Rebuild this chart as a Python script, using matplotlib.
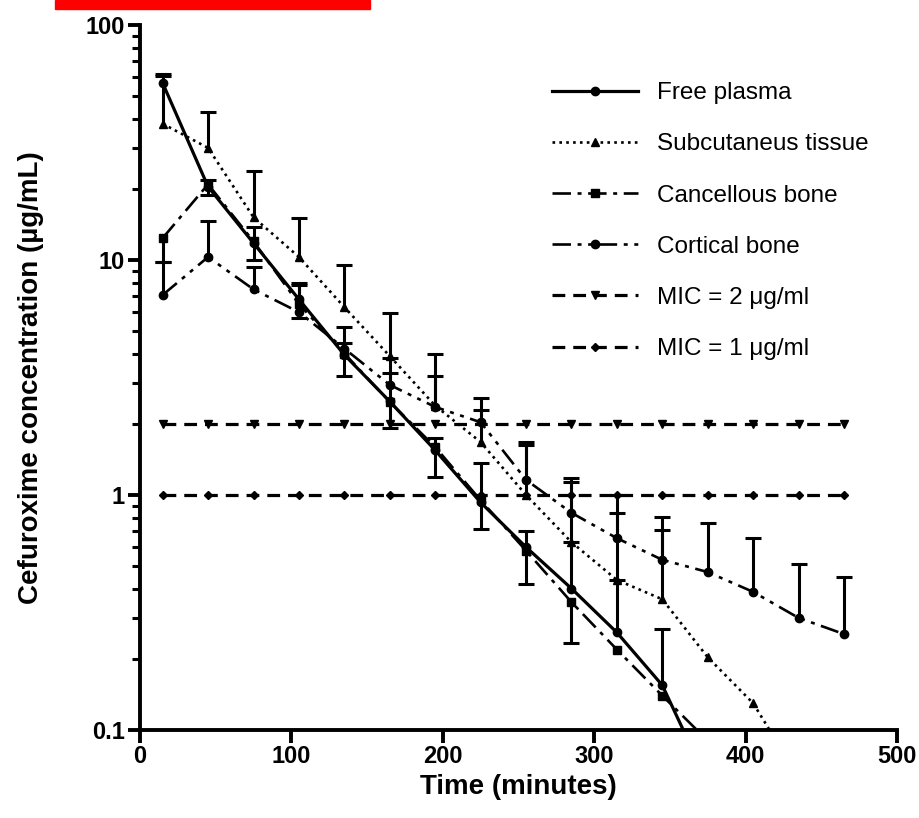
import numpy as np
import matplotlib
matplotlib.use("Agg")
import matplotlib.pyplot as plt
from matplotlib.patches import Rectangle

plt.rcParams["font.family"] = ["Liberation Sans", "DejaVu Sans"]

# Data
times = [15, 45, 75, 105, 135, 165, 195, 225, 255, 285, 315, 345, 375, 405, 435, 465]

plasma = [56.6, 20.5, 11.8, 6.8, 3.95, 2.5, 1.55, 0.93, 0.60, 0.40, 0.26, 0.155, 0.06]
plasma_err = [4.0, 1.5, 2.0, 1.0, 0.5, 0.8, 0.2, 0.44, 0.1, 0.23, 0.175, 0.115, np.nan]

subcut = [38, 30, 15.2, 10.3, 6.3, 3.9, 2.4, 1.68, 1.0, 0.63, 0.435, 0.36, 0.204, 0.13, 0.063]
subcut_err = [24, 12.6, 8.8, 4.8, 3.2, 2.05, 1.6, 0.62, 0.63, 0.51, 0.405, 0.35,
              np.nan, np.nan, np.nan]

cancellous = [12.4, 21, 12.0, 6.5, 4.0, 2.49, 1.6, 0.95, 0.58, 0.35, 0.22, 0.14, 0.09]
cancellous_err = [2.6, 2.0, 2.0, 0.85, 0.8, 0.56, 0.41, 0.23, 0.16, 0.115,
                  np.nan, np.nan, np.nan]

cortical = [7.1, 10.3, 7.5, 6.0, 4.2, 2.94, 2.37, 2.04, 1.16, 0.84, 0.655, 0.53,
            0.47, 0.387, 0.30, 0.256]
cortical_err = [2.7, 4.4, 1.8, 2.0, 1.0, 0.9, 0.83, 0.55, 0.52, 0.34, 0.345, 0.28,
                0.29, 0.27, 0.21, 0.19]

mic2 = [2.0] * len(times)
mic1 = [1.0] * len(times)

x_ticks = [0, 100, 200, 300, 400, 500]
y_ticks = [0.1, 1, 10, 100]
y_ticklabels = ["0.1", "1", "10", "100"]


def err_bars(ax, y, err, upward=True):
    n = len(y)
    t = np.array(times[:n], dtype=float)
    y = np.array(y, dtype=float)
    e = np.array(err, dtype=float)
    end = y + e if upward else y - e
    ok = ~np.isnan(e)
    ax.vlines(t[ok], y[ok], end[ok], colors="black", linewidth=2.2, zorder=3)
    ax.plot(t[ok], end[ok], linestyle="none", marker="_", ms=11, mew=2.2,
            color="black", zorder=3)


fig = plt.figure(figsize=(9.19, 8.18), dpi=100)
ax = fig.add_axes([0.1523, 0.1076, 0.976 - 0.1523, 0.9694 - 0.1076])

dashdot = (0, (7, 2.5, 1.5, 2.5))
dashdotdot = (0, (7, 2.5, 1.5, 2.5, 1.5, 2.5))
dashed = (0, (4, 2.5))

ax.plot(times[:len(plasma)], plasma, color="black", lw=2.3, ls="-",
        marker="o", ms=6, label="Free plasma", zorder=4)
ax.plot(times[:len(subcut)], subcut, color="black", lw=1.9, ls=(0, (1, 1.6)),
        marker="^", ms=6, label="Subcutaneus tissue", zorder=4)
ax.plot(times[:len(cancellous)], cancellous, color="black", lw=1.9, ls=dashdot,
        marker="s", ms=6, label="Cancellous bone", zorder=4)
ax.plot(times, cortical, color="black", lw=1.9, ls=dashdotdot,
        marker="o", ms=6, label="Cortical bone", zorder=4)
ax.plot(times, mic2, color="black", lw=2.3, ls=dashed,
        marker="v", ms=6, label="MIC = 2 \u03bcg/ml", zorder=2)
ax.plot(times, mic1, color="black", lw=2.3, ls=dashed,
        marker="D", ms=4.5, label="MIC = 1 \u03bcg/ml", zorder=2)

err_bars(ax, plasma, plasma_err, upward=True)
err_bars(ax, subcut, subcut_err, upward=True)
err_bars(ax, cancellous, cancellous_err, upward=False)
err_bars(ax, cortical, cortical_err, upward=True)

ax.set_yscale("log")
ax.set_ylim(0.1, 100)
ax.set_xlim(0, 500)
ax.set_xticks(x_ticks)
ax.set_xticklabels([str(v) for v in x_ticks])
ax.set_yticks(y_ticks)
ax.set_yticklabels(y_ticklabels)

for s in ["top", "right"]:
    ax.spines[s].set_visible(False)
for s in ["left", "bottom"]:
    ax.spines[s].set_linewidth(2.8)

ax.tick_params(axis="both", which="major", length=9, width=2.8, labelsize=17,
               direction="out", pad=2)
ax.tick_params(axis="y", which="minor", length=6, width=2.2, direction="out")
ax.tick_params(axis="x", which="minor", bottom=False)
for lab in ax.get_xticklabels() + ax.get_yticklabels():
    lab.set_fontweight("bold")

ax.set_xlabel("Time (minutes)", fontsize=20, fontweight="bold", labelpad=4)
ax.set_ylabel("Cefuroxime concentration (\u00b5g/mL)", fontsize=20,
              fontweight="bold", labelpad=30)

leg = ax.legend(loc="upper left", bbox_to_anchor=(0.516, 0.950), frameon=False,
                fontsize=17.5, handlelength=3.5, handletextpad=0.8,
                labelspacing=1.2)

fig.patches.append(Rectangle((55 / 919, 1 - 9 / 818), 315 / 919, 9 / 818,
                             transform=fig.transFigure, color="#ff0000",
                             zorder=10))

fig.savefig("out.png", dpi=100)
